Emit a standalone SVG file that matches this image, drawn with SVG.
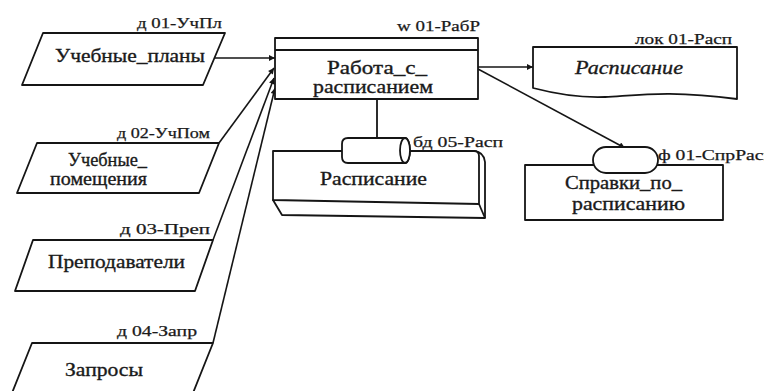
<svg xmlns="http://www.w3.org/2000/svg" width="764" height="391" viewBox="0 0 764 391">
<style>
.s{fill:#fff;stroke:#151515;stroke-width:1.8;stroke-linejoin:round}
.n{fill:none;stroke:#151515;stroke-width:1.8}
.c{fill:none;stroke:#151515;stroke-width:1.6;marker-end:url(#ah)}
.t{font-family:"Liberation Serif",serif;font-size:19px;fill:#1a1a1a;stroke:#1a1a1a;stroke-width:0.35}
.l{font-family:"Liberation Serif",serif;font-size:15px;fill:#1a1a1a;stroke:#1a1a1a;stroke-width:0.25}
</style>
<defs>
<marker id="ah" viewBox="0 0 10 10" refX="10" refY="5" markerWidth="11" markerHeight="6" markerUnits="userSpaceOnUse" orient="auto"><path d="M0,0 L10,5 L0,10 z" fill="#151515"/></marker>
</defs>
<rect width="764" height="391" fill="#fff"/>
<g id="connectors">
<line class="c" x1="214" y1="58" x2="275" y2="58"/>
<line class="c" x1="219" y1="143" x2="274" y2="68"/>
<line class="c" x1="213" y1="240" x2="274" y2="78"/>
<line class="c" x1="213" y1="343" x2="275" y2="88"/>
<line class="n" x1="377" y1="99" x2="377" y2="138"/>
<line class="c" x1="478" y1="67" x2="533" y2="67"/>
<line class="c" x1="478" y1="69" x2="625" y2="148"/>
</g>
<g id="uchpl">
<polygon class="s" points="43,33 225,33 203,85 22,85"/>
<text class="l" x="137" y="28" textLength="85" lengthAdjust="spacingAndGlyphs">д 01-УчПл</text>
<text class="t" x="55" y="62" textLength="150" lengthAdjust="spacingAndGlyphs">Учебные_планы</text>
</g>
<g id="uchpom">
<polygon class="s" points="37,143 219,143 199,193 17,193"/>
<text class="l" x="117" y="138" textLength="93" lengthAdjust="spacingAndGlyphs">д 02-УчПом</text>
<text class="t" x="68" y="166" textLength="79" lengthAdjust="spacingAndGlyphs">Учебные_</text>
<text class="t" x="50" y="185" textLength="97" lengthAdjust="spacingAndGlyphs">помещения</text>
</g>
<g id="prep">
<polygon class="s" points="33,240 213,240 195,291 15,291"/>
<text class="l" x="120" y="234" textLength="90" lengthAdjust="spacingAndGlyphs">д 03-Преп</text>
<text class="t" x="48" y="268" textLength="137" lengthAdjust="spacingAndGlyphs">Преподаватели</text>
</g>
<g id="zapr">
<polygon class="s" points="32,343 213,343 193,393 12,393"/>
<text class="l" x="117" y="336" textLength="80" lengthAdjust="spacingAndGlyphs">д 04-Запр</text>
<text class="t" x="65" y="376" textLength="78" lengthAdjust="spacingAndGlyphs">Запросы</text>
</g>
<g id="rabr">
<rect class="s" x="275" y="38" width="203" height="61"/>
<line class="n" x1="275" y1="50" x2="478" y2="50"/>
<text class="l" x="397" y="31" textLength="83" lengthAdjust="spacingAndGlyphs">w 01-РабР</text>
<text class="t" x="327" y="74" textLength="100" lengthAdjust="spacingAndGlyphs">Работа_с_</text>
<text class="t" x="313" y="93" textLength="120" lengthAdjust="spacingAndGlyphs">расписанием</text>
</g>
<g id="bd-rasp">
<path class="s" d="M474,151 Q484,152 485,162 L485,218 L282,215 L273,200 Z"/>
<path class="s" d="M273,151 L474,151 Q479,151 479,156 L479,204 L273,200 Z"/>
<line class="n" x1="479" y1="204" x2="485" y2="218"/>
<path class="s" d="M348,138 H405 A5,12.5 0 0 1 405,163 H348 Q342,163 342,157 V144 Q342,138 348,138 Z"/>
<ellipse class="s" cx="405" cy="150.5" rx="5" ry="12.5"/>
<text class="l" x="413" y="147" textLength="90" lengthAdjust="spacingAndGlyphs">бд 05-Расп</text>
<text class="t" x="320" y="185" textLength="107" lengthAdjust="spacingAndGlyphs">Расписание</text>
</g>
<g id="lok-rasp">
<path class="s" d="M533,47 H737 V99 C670,90 640,95 605,97 C580,98 560,95 533,88 Z"/>
<text class="l" x="635" y="44" textLength="97" lengthAdjust="spacingAndGlyphs">лок 01-Расп</text>
<text class="t" x="575" y="74" textLength="108" lengthAdjust="spacingAndGlyphs" font-style="italic">Расписание</text>
</g>
<g id="spr-rasp">
<rect class="s" x="525" y="165" width="198" height="55"/>
<rect class="s" x="593" y="147" width="65" height="26" rx="13"/>
<text class="l" x="658" y="160" textLength="116" lengthAdjust="spacingAndGlyphs">ф 01-СпрРасп</text>
<text class="t" x="565" y="189" textLength="117" lengthAdjust="spacingAndGlyphs">Справки_по_</text>
<text class="t" x="572" y="210" textLength="113" lengthAdjust="spacingAndGlyphs">расписанию</text>
</g>
</svg>
